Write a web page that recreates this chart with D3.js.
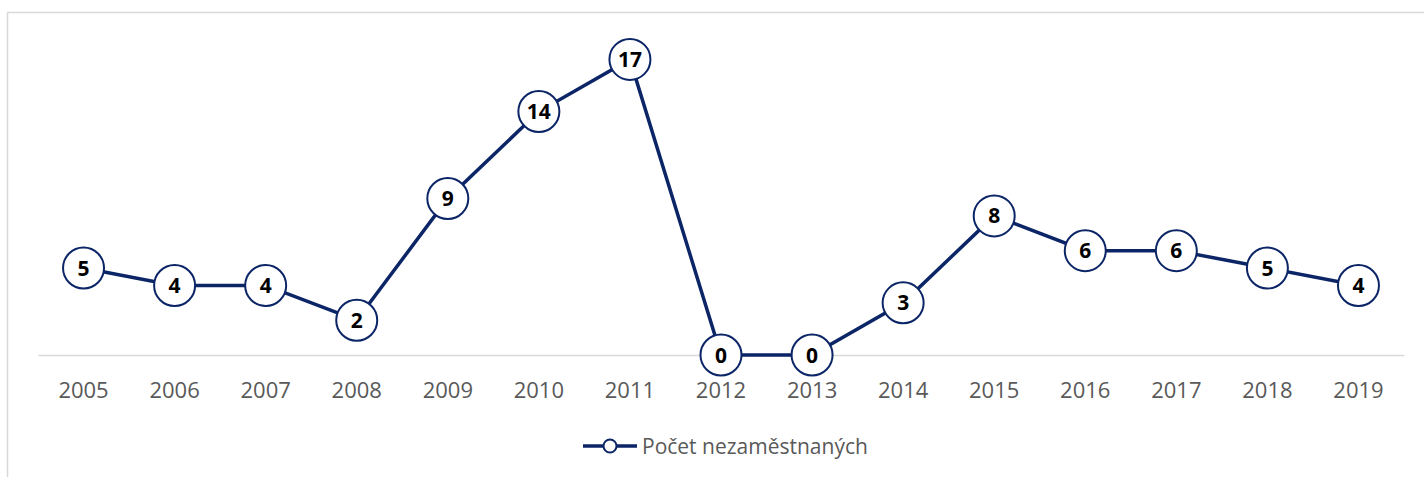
<!doctype html>
<html>
<head>
<meta charset="UTF-8">
<title>Počet nezaměstnaných</title>
<script src="https://d3js.org/d3.v7.min.js"></script>
<style>
  body { margin: 0; background: #fff; }
  svg text { font-family: "Open Sans", Lato, sans-serif; }
</style>
</head>
<body>
<div id="chart"></div>
<script>
// data
var years = ["2005","2006","2007","2008","2009","2010","2011","2012","2013","2014","2015","2016","2017","2018","2019"];
var unemployed = [5, 4, 4, 2, 9, 14, 17, 0, 0, 3, 8, 6, 6, 5, 4];
var seriesName = "Počet nezaměstnaných";

var width = 1424, height = 477;
var navy = "#0b2566";

var svg = d3.select("#chart").append("svg")
    .attr("width", width)
    .attr("height", height);

// chart frame
svg.append("rect")
    .attr("x", 7.5).attr("y", 12.5)
    .attr("width", width + 20).attr("height", height + 20)
    .attr("fill", "none")
    .attr("stroke", "#d9d9d9")
    .attr("stroke-width", 1.5);

var x = d3.scaleBand()
    .domain(years)
    .range([38, 1404]);

var y = d3.scaleLinear()
    .domain([0, 18])
    .range([355, 42]);

// category axis
var xAxis = svg.append("g")
    .attr("transform", "translate(0,355)")
    .call(d3.axisBottom(x).tickSize(0).tickPadding(0));
xAxis.select(".domain").attr("stroke", "#d9d9d9").attr("stroke-width", 1.5);
xAxis.selectAll("text")
    .attr("y", 43)
    .attr("dy", null)
    .attr("fill", "#595959")
    .style("font-size", "22px")
    .style("font-family", "'Open Sans', Lato, sans-serif");

var line = d3.line()
    .x(function(d, i) { return x(years[i]) + x.bandwidth() / 2; })
    .y(function(d) { return y(d); });

svg.append("path")
    .datum(unemployed)
    .attr("d", line)
    .attr("fill", "none")
    .attr("stroke", navy)
    .attr("stroke-width", 3.5);

var pts = svg.selectAll(".pt")
    .data(unemployed)
    .enter().append("g")
    .attr("class", "pt")
    .attr("transform", function(d, i) {
        return "translate(" + (x(years[i]) + x.bandwidth() / 2) + "," + y(d) + ")";
    });

pts.append("circle")
    .attr("r", 20.5)
    .attr("fill", "#fff")
    .attr("stroke", navy)
    .attr("stroke-width", 2);

pts.append("text")
    .attr("text-anchor", "middle")
    .attr("dy", "0.36em")
    .attr("fill", "#000")
    .style("font-size", "21px")
    .style("font-weight", "bold")
    .text(function(d) { return d; });

// legend
var legend = svg.append("g").attr("transform", "translate(583,446)");
legend.append("line")
    .attr("x1", 0).attr("x2", 54)
    .attr("stroke", navy).attr("stroke-width", 3.5);
legend.append("circle")
    .attr("cx", 27).attr("r", 6.5)
    .attr("fill", "#fff").attr("stroke", navy).attr("stroke-width", 2);
legend.append("text")
    .attr("x", 59)
    .attr("dy", "0.36em")
    .attr("fill", "#595959")
    .style("font-size", "21px")
    .text(seriesName);
</script>
</body>
</html>
